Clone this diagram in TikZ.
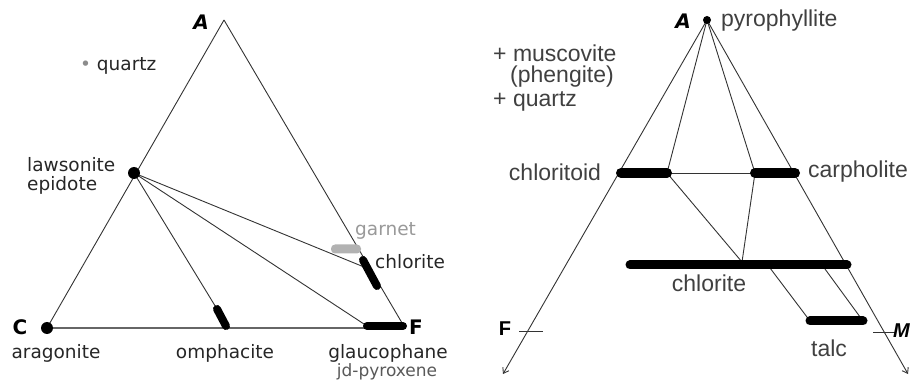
\documentclass[tikz,border=0pt]{standalone}
\usepackage{fontspec}
\setmainfont{DejaVu Sans}
\newfontfamily\plainsans{Liberation Sans}
\usetikzlibrary{arrows.meta,positioning,calc}

\begin{document}
\begin{tikzpicture}[
  x=1pt, y=-1pt,
  node distance=2pt,
  every node/.style={font=\fontsize{18.5}{20}\selectfont, text=black!85, inner sep=0pt},
  rlabel/.style={font=\plainsans\fontsize{23}{25}\selectfont, text=black!75},
  corner/.style={font=\fontsize{20}{22}\selectfont\bfseries, text=black},
  edge/.style={draw=black!80, line width=0.9pt},
  base/.style={draw=black!60, line width=2pt},
  bar/.style={draw=black, line width=8pt, line cap=round},
  dot/.style={circle, fill=black, minimum size=12pt},
  garnetbox/.style={fill=black!30, rounded corners=4pt, minimum width=30pt, minimum height=9pt},
  >={Straight Barb[length=5pt,width=7pt]}
]
\useasboundingbox (0,0) rectangle (911,382);

% left triangle: A-C-F
\coordinate (A1) at (224,20);
\coordinate (C1) at (47,328);
\coordinate (F1) at (405,328);
\coordinate (law) at (134,173);
\coordinate (omA) at (217,309);
\coordinate (omB) at (226,326);
\coordinate (chlA) at (363,260);
\coordinate (chlB) at (377,286);
\coordinate (chlE) at (364,267);
\coordinate (glA) at (367,326);
\coordinate (glB) at (403,326);

\draw[base] (C1) -- (F1);
\draw[edge] (A1) -- (C1);
\draw[edge] (A1) -- (F1);
\draw[edge] (law) -- (omA);
\draw[edge] (law) -- (chlE);
\draw[edge] (law) -- (glA);

\node[garnetbox] (grt) at (346,249) {};
\draw[bar] (omA) -- (omB);
\draw[bar] (chlA) -- (chlB);
\draw[bar] (glA) -- (glB);
\node[dot] (lawdot) at (law) {};
\node[dot] (Cdot) at (C1) {};

\node[corner, font=\fontsize{20}{22}\selectfont\bfseries\itshape] (Alab) at (201,22) {A};
\node[anchor=west] (qtz) at (80,66) {{\color{black!45}\textbullet}\ quartz};
\node[anchor=west] (lws) at (27,165) {lawsonite};
\node[below=4pt of lws.south west, anchor=north west] (epi) {epidote};
\node[anchor=west, text=black!40] (grtlab) at (355,231) {garnet};
\node[anchor=west] (chllab) at (375,262) {chlorite};
\node[corner] (Clab) at (20,327) {C};
\node[corner] (Flab) at (416,327) {F};
\node (arg) at (56,353) {aragonite};
\node (omp) at (225,353) {omphacite};
\node (glc) at (388,353) {glaucophane};
\node[anchor=base, font=\fontsize{17}{18}\selectfont, text=black!65] (jd) at (387,376) {jd-pyroxene};

% right triangle: A-F-M
\coordinate (A2) at (707,20);
\coordinate (E1) at (503,374);
\coordinate (E2) at (908,374);
\coordinate (cldL) at (621,173);
\coordinate (cldR) at (667,173);
\coordinate (cphL) at (755,173);
\coordinate (cphR) at (795,173);
\coordinate (chlL) at (630,265);
\coordinate (chlR) at (847,265);
\coordinate (chlP) at (742,262);
\coordinate (chlQ) at (770,268);
\coordinate (chlS) at (825,269);
\coordinate (tlcL) at (810,321);
\coordinate (tlcR) at (863,321);
\coordinate (tF1) at (519,331);
\coordinate (tF2) at (543,331);
\coordinate (tM1) at (873,332);
\coordinate (tM2) at (895,332);

\draw[edge, ->] (A2) -- (E1);
\draw[edge, ->] (A2) -- (E2);
\draw[edge] (A2) -- (cldR);
\draw[edge] (A2) -- (cphL);
\draw[edge] (cldR) -- (cphL);
\draw[edge] (cldR) -- (chlP);
\draw[edge] (cphL) -- (chlP);
\draw[edge] (chlQ) -- (tlcL);
\draw[edge] (chlS) -- (tlcR);
\draw[edge] (tF1) -- (tF2);
\draw[edge] (tM1) -- (tM2);

\draw[bar, line width=10pt] (cldL) -- (cldR);
\draw[bar, line width=10pt] (cphL) -- (cphR);
\draw[bar, line width=9pt] (chlL) -- (chlR);
\draw[bar, line width=9pt] (tlcL) -- (tlcR);
\node[dot, minimum size=8pt] (prl) at (A2) {};

\node[corner, font=\fontsize{20}{22}\selectfont\bfseries\itshape] (A2lab) at (683,21) {A};
\node[rlabel, anchor=west] (prllab) at (721,21) {pyrophyllite};
\node[rlabel, anchor=west] (msc) at (493,53) {+ muscovite};
\node[rlabel, anchor=west] (phg) at (510,77) {(phengite)};
\node[rlabel, anchor=west] (qtz2) at (493,101) {+ quartz};
\node[rlabel] (cldlab) at (555,172) {chloritoid};
\node[rlabel] (cphlab) at (858,172) {carpholite};
\node[rlabel] (chl2lab) at (709,283) {chlorite};
\node[rlabel] (tlclab) at (829,348) {talc};
\node[corner, font=\plainsans\fontsize{20}{22}\selectfont\bfseries] (F2lab) at (505,329) {F};
\node[corner, font=\plainsans\fontsize{20}{22}\selectfont\bfseries\itshape, anchor=east] (M2lab) at (910,331) {M};
\end{tikzpicture}
\end{document}
